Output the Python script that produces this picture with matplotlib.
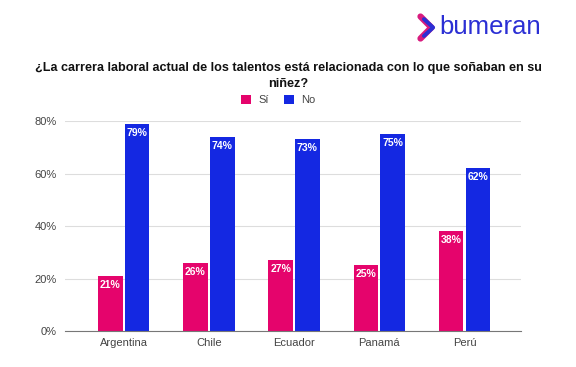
import numpy as np
import matplotlib.pyplot as plt

plt.rcParams['font.family'] = ['Liberation Sans', 'DejaVu Sans']

paises = ['Argentina', 'Chile', 'Ecuador', 'Panamá', 'Perú']
si = [21, 26, 27, 25, 38]
no = [79, 74, 73, 75, 62]
yticks = [0, 20, 40, 60, 80]

rosa = '#E5046C'
azul = '#1428E2'

fig = plt.figure(figsize=(5.76, 3.67), dpi=100)
ax = fig.add_axes([0.113, 0.098, 0.7915, 0.572])

x = np.arange(len(paises))
w = 0.29
b1 = ax.bar(x - w / 2 - 0.012, si, w, color=rosa, label='Sí', zorder=3)
b2 = ax.bar(x + w / 2 + 0.012, no, w, color=azul, label='No', zorder=3)

for bars in (b1, b2):
    for r in bars:
        ax.text(r.get_x() + r.get_width() / 2, r.get_height() - 1.5,
                f'{r.get_height():.0f}%', ha='center', va='top',
                color='white', fontsize=7.5, fontweight='bold', zorder=4)

ax.set_xlim(-0.686, 4.663)
ax.set_ylim(0, 80)
ax.set_yticks(yticks)
ax.set_yticklabels([f'{v}%' for v in yticks])
ax.set_xticks(x)
ax.set_xticklabels(paises)
ax.tick_params(axis='both', length=0, labelsize=8, colors='#444444')
ax.tick_params(axis='y', pad=6)
ax.tick_params(axis='x', pad=5)
ax.yaxis.grid(True, color='#dddddd', linewidth=0.8, zorder=0)
for s in ['top', 'right', 'left']:
    ax.spines[s].set_visible(False)
ax.spines['bottom'].set_color('#777777')
ax.spines['bottom'].set_zorder(5)

fig.text(0.5, 0.793, '¿La carrera laboral actual de los talentos está relacionada con lo que soñaban en su\nniñez?',
         ha='center', va='center', fontsize=9.1, fontweight='bold', color='#111111', linespacing=1.4)

fig.legend(handles=[b1, b2], labels=['Sí', 'No'], loc='center', bbox_to_anchor=(0.483, 0.728),
           ncol=2, frameon=False, fontsize=8, handlelength=0.9, handleheight=0.9,
           handletextpad=0.6, columnspacing=1.4, labelcolor='#444444')

# logo
fig.text(0.763, 0.927, 'bumeran', ha='left', va='center', fontsize=18.5, color='#2B2FD4')
fig.add_artist(plt.Line2D([0.730, 0.749, 0.730], [0.955, 0.925, 0.895],
                          transform=fig.transFigure, color='#D81B7E', linewidth=4.5,
                          solid_capstyle='round', solid_joinstyle='round'))
fig.add_artist(plt.Line2D([0.736, 0.752, 0.736], [0.948, 0.925, 0.902],
                          transform=fig.transFigure, color='#2B2FD4', linewidth=2.8,
                          solid_capstyle='round', solid_joinstyle='round'))

fig.savefig('out.png', dpi=100)
